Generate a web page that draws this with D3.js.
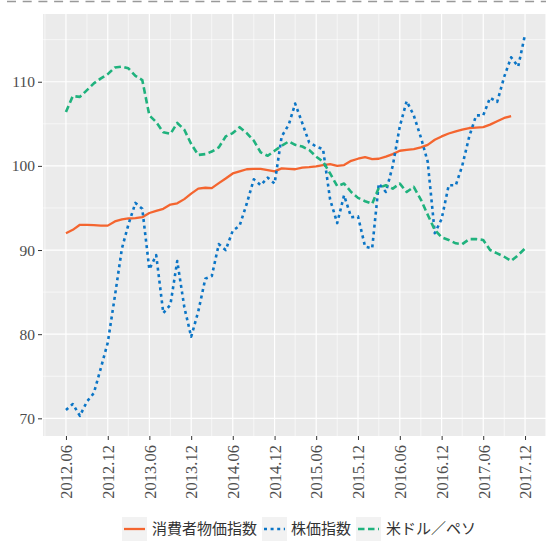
<!DOCTYPE html>
<html><head><meta charset="utf-8">
<script src="https://cdn.jsdelivr.net/npm/d3@7"></script>
<style>
html,body{margin:0;padding:0;background:#fff;}
svg{display:block;}
</style></head>
<body>
<script>
// ---- data ----
const startMonth = "2012-06";
const seriesNames = ["消費者物価指数", "株価指数", "米ドル／ペソ"];
const cpi = [92.0,92.4,93.0,93.0,92.95,92.9,92.9,93.4,93.65,93.75,93.8,93.9,94.4,94.65,94.9,95.4,95.55,96.05,96.7,97.3,
  97.4,97.35,97.95,98.5,99.1,99.35,99.6,99.65,99.65,99.5,99.35,99.7,99.65,99.6,99.8,99.85,99.95,100.1,100.2,100.0,
  100.1,100.6,100.85,101.05,100.8,100.85,101.1,101.4,101.8,101.9,102.0,102.2,102.5,103.1,103.5,103.85,104.1,104.3,104.5,104.55,
  104.6,104.9,105.3,105.7,105.9];
const stock = [71.0,71.7,70.3,72.0,73.0,76.0,79.0,84.5,90.2,93.0,95.6,94.9,87.7,89.4,82.5,83.5,88.7,83.2,79.7,82.7,
  86.6,86.9,90.7,90.0,92.3,92.9,95.5,98.4,97.7,98.6,97.9,103.5,104.9,107.4,105.1,102.8,102.3,102.0,96.0,93.2,
  96.5,93.9,94.0,90.4,90.2,97.9,96.9,100.0,104.7,107.7,106.0,103.4,100.5,92.0,93.7,97.7,97.7,100.0,103.5,106.0,
  106.0,108.1,107.6,110.6,112.9,111.8,115.6];
const peso = [106.4,108.3,108.2,109.0,109.8,110.4,110.9,111.7,111.8,111.6,110.7,110.2,106.0,105.2,104.0,103.8,105.1,104.3,102.6,101.3,
  101.4,101.7,102.2,103.5,103.9,104.6,103.9,103.0,101.6,101.2,101.8,102.4,102.9,102.5,102.3,101.9,101.1,100.5,99.1,97.6,
  97.9,96.9,96.2,95.8,95.5,97.4,97.7,97.3,97.9,96.9,97.5,96.0,94.2,92.4,91.5,91.2,90.8,90.7,91.3,91.3,
  91.2,90.0,89.6,89.2,88.7,89.4,90.2];
const xTickLabels = ["2012.06","2012.12","2013.06","2013.12","2014.06","2014.12","2015.06","2015.12","2016.06","2016.12","2017.06","2017.12"];
const yTicks = [70, 80, 90, 100, 110];
const colors = ["#F4652F", "#0B75C6", "#1FB27D"];

// ---- layout ----
const W = 546, H = 541;
const panel = {left: 43, right: 548, top: 14, bottom: 436};
const serif = "'Liberation Serif', 'DejaVu Serif', serif";

const parseM = d3.timeParse("%Y-%m");
const d0 = parseM(startMonth);
const dateAt = i => d3.timeMonth.offset(d0, i);
const dLast = dateAt(66);
const span = dLast - d0;
const x = d3.scaleTime()
  .domain([new Date(+d0 - span*0.05), new Date(+dLast + span*0.05)])
  .range([panel.left, panel.right]);
const y = d3.scaleLinear().domain([67.9, 118.05]).range([panel.bottom, panel.top]);

const svg = d3.select("body").append("svg").attr("width", W).attr("height", H);

// top dashed border
svg.append("line").attr("x1", 7).attr("x2", W).attr("y1", 1.5).attr("y2", 1.5)
  .attr("stroke", "#999").attr("stroke-width", 1.6).attr("stroke-dasharray", "9,6.7");

svg.append("clipPath").attr("id", "pc").append("rect")
  .attr("x", panel.left).attr("y", panel.top)
  .attr("width", panel.right - panel.left).attr("height", panel.bottom - panel.top);

const g = svg.append("g").attr("clip-path", "url(#pc)");
g.append("rect").attr("x", panel.left).attr("y", panel.top)
  .attr("width", panel.right - panel.left).attr("height", panel.bottom - panel.top)
  .attr("fill", "#EBEBEB");

// grids
const majorDates = xTickLabels.map(s => parseM(s.replace(".", "-")));
const minorDates = [d3.timeMonth.offset(majorDates[0], -3)]
  .concat(majorDates.map(d => d3.timeMonth.offset(d, 3)));
const yMinor = [75, 85, 95, 105, 115];

g.selectAll(".vminor").data(minorDates).join("line")
  .attr("x1", d => x(d)).attr("x2", d => x(d)).attr("y1", panel.top).attr("y2", panel.bottom)
  .attr("stroke", "#fff").attr("stroke-width", 0.6);
g.selectAll(".hminor").data(yMinor).join("line")
  .attr("y1", d => y(d)).attr("y2", d => y(d)).attr("x1", panel.left).attr("x2", panel.right)
  .attr("stroke", "#fff").attr("stroke-width", 0.6);
g.selectAll(".vmajor").data(majorDates).join("line")
  .attr("x1", d => x(d)).attr("x2", d => x(d)).attr("y1", panel.top).attr("y2", panel.bottom)
  .attr("stroke", "#fff").attr("stroke-width", 1.2);
g.selectAll(".hmajor").data(yTicks).join("line")
  .attr("y1", d => y(d)).attr("y2", d => y(d)).attr("x1", panel.left).attr("x2", panel.right)
  .attr("stroke", "#fff").attr("stroke-width", 1.2);

// lines
const line = d3.line().x((d, i) => x(dateAt(i))).y(d => y(d));
const styles = [
  {data: cpi, dash: null, w: 2.3},
  {data: stock, dash: "3,3.6", w: 2.6},
  {data: peso, dash: "6.5,3.5", w: 2.6}
];
styles.forEach((s, k) => {
  g.append("path").datum(s.data).attr("d", line)
    .attr("fill", "none").attr("stroke", colors[k]).attr("stroke-width", s.w)
    .attr("stroke-dasharray", s.dash).attr("stroke-linejoin", "round");
});

// axes
const xAxis = d3.axisBottom(x).tickValues(majorDates).tickSize(4).tickPadding(3)
  .tickFormat((d, i) => xTickLabels[i]);
const xa = svg.append("g").attr("transform", `translate(0,${panel.bottom})`).call(xAxis)
  .attr("font-family", serif);
xa.select(".domain").remove();
xa.selectAll(".tick line").attr("stroke", "#333").attr("stroke-width", 1);
xa.selectAll(".tick text")
  .attr("fill", "#4D4D4D").attr("font-size", 16.5).attr("font-family", serif)
  .attr("transform", "rotate(-90)")
  .attr("x", -9).attr("y", 0).attr("dy", "0.35em")
  .attr("text-anchor", "end");

const yAxis = d3.axisLeft(y).tickValues(yTicks).tickSize(4).tickPadding(3);
const ya = svg.append("g").attr("transform", `translate(${panel.left - 1},0)`).call(yAxis)
  .attr("font-family", serif);
ya.select(".domain").remove();
ya.selectAll(".tick line").attr("stroke", "#333").attr("stroke-width", 1);
ya.selectAll(".tick text").attr("fill", "#4D4D4D").attr("font-size", 15.5).attr("font-family", serif);

// legend
const legendItems = [
  {x: 122, lx: 152},
  {x: 262, lx: 291},
  {x: 356, lx: 386}
];
const ly = 529;
const lg = svg.append("g");
legendItems.forEach((it, k) => {
  lg.append("rect").attr("x", it.x).attr("y", ly - 12).attr("width", 25).attr("height", 24)
    .attr("fill", "#F2F2F2");
  lg.append("line").attr("x1", it.x + 2).attr("x2", it.x + 23).attr("y1", ly).attr("y2", ly)
    .attr("stroke", colors[k]).attr("stroke-width", styles[k].w)
    .attr("stroke-dasharray", styles[k].dash);
  lg.append("text").attr("x", it.lx).attr("y", ly).attr("dy", "0.36em")
    .attr("font-family", "'Noto Sans CJK JP', sans-serif").attr("font-size", 15)
    .attr("fill", "#333").text(seriesNames[k]);
});
</script>
</body></html>
